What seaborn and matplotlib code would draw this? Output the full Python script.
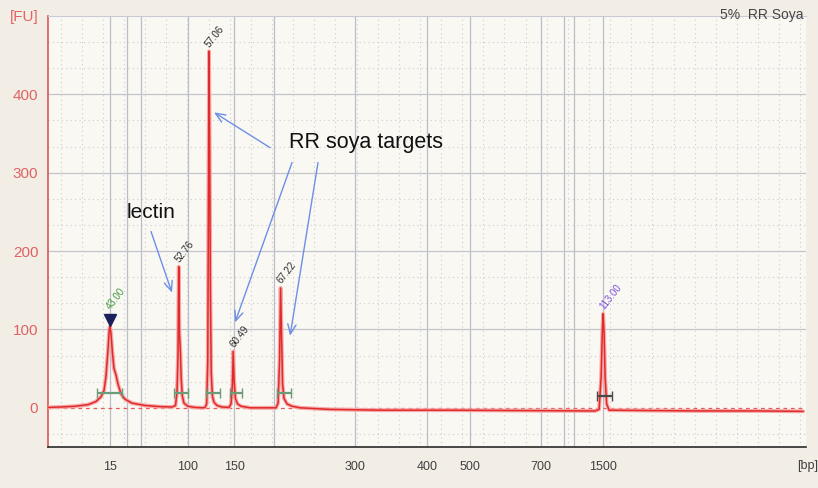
import matplotlib
matplotlib.use("Agg")
import matplotlib.pyplot as plt
from matplotlib.ticker import MultipleLocator
import numpy as np
import seaborn as sns

# Electropherogram trace: migration time (s) and fluorescence (FU)
time_s = [34.20, 35.90, 38.03, 39.88, 41.01, 41.72, 42.15, 42.43, 42.72, 42.90,
          43.00, 43.14, 43.35, 43.57, 43.85, 44.14, 44.56, 45.13, 46.12, 47.97,
          50.10, 51.80, 52.30, 52.51, 52.66, 52.76, 52.86, 52.98, 53.10, 53.25,
          53.50, 54.05, 55.05, 56.20, 56.50, 56.72, 56.88, 56.99, 57.06, 57.15,
          57.25, 57.37, 57.54, 57.76, 58.20, 58.90, 59.90, 60.18, 60.38, 60.49,
          60.62, 60.80, 61.10, 61.60, 62.90, 66.57, 66.86, 67.07, 67.22, 67.36,
          67.50, 67.70, 68.13, 68.85, 70.00, 74.24, 81.34, 91.28, 101.21, 111.86,
          112.43, 112.72, 112.90, 113.00, 113.14, 113.28, 113.50, 113.85, 119.67,
          126.77, 135.29, 141.40]
fluor = [0.5, 1, 2, 4, 8, 14, 22, 40, 75, 100,
         104, 95, 70, 50, 42, 30, 18, 11, 6, 3,
         1.5, 1, 3, 20, 70, 180, 95, 75, 40, 16,
         6, 2, 0.5, 0, 0.5, 5, 60, 300, 455, 330,
         150, 45, 15, 7, 3, 1, 0.5, 5, 30, 72,
         35, 12, 5, 2, 0, 0, 6, 60, 153, 90,
         30, 12, 5, 2, 0, -2, -3, -3, -3.5, -4,
         -2, 40, 100, 120, 95, 40, 5, -3, -3.5,
         -4, -4, -4.5]

# DNA ladder sizes (bp) and their migration times (s)
ladder_bp = [15, 25, 50, 100, 150, 200, 300, 400, 500, 700, 850, 1000, 1500]
ladder_time = [43.00, 45.41, 47.40, 54.07, 60.61, 66.29, 77.79, 88.01, 94.11,
               104.20, 107.46, 108.88, 113.00]
ladder_shown = [15, 100, 150, 300, 400, 500, 700, 1500]

# Called peaks (migration time) and their integration windows
peak_time = [43.00, 52.76, 57.06, 60.49, 67.22, 113.00]
peak_color = ["#3f9a3f", "#2a2a2a", "#2a2a2a", "#2a2a2a", "#2a2a2a", "#7b52d9"]
win_start = [41.15, 52.09, 56.63, 60.04, 66.71, 112.15]
win_end = [44.70, 54.07, 58.62, 61.74, 68.70, 114.28]
win_level = [19, 19, 19, 19, 19, 15]
win_color = ["#6a9c77", "#6a9c77", "#6a9c77", "#6a9c77", "#6a9c77", "#4a4a4a"]

sns.set_style("white")
plt.rcParams["font.family"] = ["Liberation Sans", "DejaVu Sans"]

W, H = 818, 488
fig = plt.figure(figsize=(W / 100, H / 100), dpi=100, facecolor="#f2eee6")
ax = fig.add_axes([48 / W, 41 / H, 758 / W, 431 / H])
ax.set_facecolor("#faf8f3")

ax.set_xlim(34.2, 141.8)
ax.set_ylim(-50, 500)

# grid: solid lines at ladder sizes and every 100 FU, dotted subdivisions
ax.xaxis.set_minor_locator(MultipleLocator(3))
ax.yaxis.set_minor_locator(MultipleLocator(100 / 3))
ax.grid(which="minor", color="#cdcdcd", ls=(0, (1, 3)), lw=0.8)
for t in ladder_time:
    ax.axvline(t, color="#bcbdc6", lw=0.9, zorder=1)
for v in [100, 200, 300, 400]:
    ax.axhline(v, color="#c3c5cd", lw=0.9, zorder=1)
ax.axhline(0, color="#e35a5a", ls=(0, (3, 3)), lw=0.9, zorder=1)

# trace with soft halo
sns.lineplot(x=time_s, y=fluor, ax=ax, color="#f5a8a8", lw=2.8,
             estimator=None, errorbar=None, zorder=3)
sns.lineplot(x=time_s, y=fluor, ax=ax, color="#e12a2a", lw=1.1,
             estimator=None, errorbar=None, zorder=4)

# integration windows
ax.hlines(win_level, win_start, win_end, colors=win_color, lw=1.6, zorder=5)
for s, e, lv, c in zip(win_start, win_end, win_level, win_color):
    ax.vlines([s, e], lv - 6, lv + 6, colors=c, lw=1.0, zorder=5)

# peak time labels
peak_fu = np.interp(peak_time, time_s, fluor)
for i, (t, f) in enumerate(zip(peak_time, peak_fu)):
    dy = 13 if i == 0 else 4
    ax.annotate(f"{t:.2f}", xy=(t, f), xytext=(-1, dy), textcoords="offset points",
                rotation=52, rotation_mode="anchor", ha="left", va="center",
                fontsize=7, color=peak_color[i], zorder=6)
ax.plot(peak_time[0], peak_fu[0] + 8, marker="v", ms=8, color="#1b1f5c",
        ls="none", zorder=6)

# axes styling
ax.set_xticks(ladder_time)
ax.set_xticklabels([str(b) if b in ladder_shown else "" for b in ladder_bp])
ax.set_yticks([0, 100, 200, 300, 400, 500])
ax.set_yticklabels(["0", "100", "200", "300", "400", "[FU]"])
ax.tick_params(axis="x", which="major", length=6, width=1, color="#333333",
               labelsize=9, labelcolor="#404040", pad=4)
ax.tick_params(axis="y", which="major", length=5, width=1, color="#e05a5a",
               labelsize=11, labelcolor="#e06262", pad=2)
ax.tick_params(which="minor", length=0)
ax.spines["right"].set_visible(False)
ax.spines["left"].set_color("#e05555")
ax.spines["left"].set_linewidth(1.2)
ax.spines["bottom"].set_color("#2a2a2a")
ax.spines["bottom"].set_linewidth(1.2)
ax.spines["top"].set_color("#c8cad6")
ax.spines["top"].set_linewidth(0.8)
ax.set_xlabel("")
ax.set_ylabel("")

fig.text(808 / W, 1 - 466 / H, "[bp]", ha="center", va="center",
         fontsize=9, color="#404040")
fig.text(803 / W, 1 - 15 / H, "5%  RR Soya", ha="right", va="center",
         fontsize=10, color="#444444")

# annotations
arrow = dict(arrowstyle="->,head_length=0.7,head_width=0.3", color="#6d8fe8",
             lw=1.0, shrinkA=0, shrinkB=0)
ax.text(48.82, 249, "lectin", fontsize=15, color="#111111", ha="center", va="center")
ax.annotate("", xy=(51.80, 147), xytext=(48.82, 225), arrowprops=arrow)
ax.text(79.35, 339, "RR soya targets", fontsize=15.5, color="#111111",
        ha="center", va="center")
ax.annotate("", xy=(57.77, 377), xytext=(65.72, 332), arrowprops=arrow)
ax.annotate("", xy=(60.75, 109), xytext=(68.84, 313), arrowprops=arrow)
ax.annotate("", xy=(68.56, 92), xytext=(72.53, 313), arrowprops=arrow)

fig.savefig("out.png", dpi=100, facecolor=fig.get_facecolor())
